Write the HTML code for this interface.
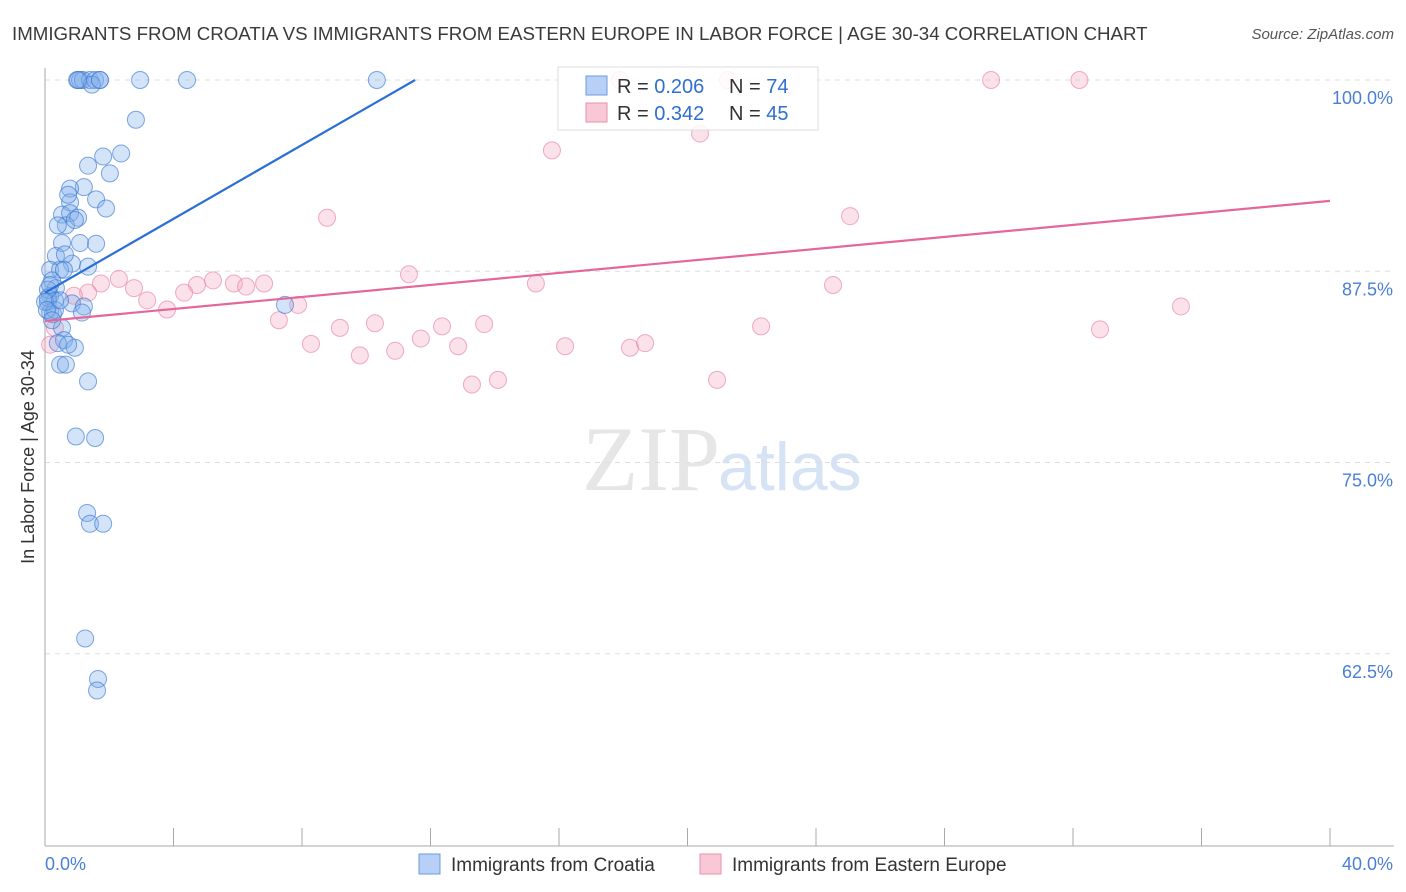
<!DOCTYPE html>
<html><head><meta charset="utf-8"><style>
body{margin:0;background:#fff;font-family:"Liberation Sans",sans-serif}
#c{position:absolute;left:0;top:0}
</style></head><body>
<svg id="c" width="1406" height="892">
<text x="12" y="40" font-size="18.7" fill="#3a3a3a">IMMIGRANTS FROM CROATIA VS IMMIGRANTS FROM EASTERN EUROPE IN LABOR FORCE | AGE 30-34 CORRELATION CHART</text>
<text x="1394" y="39" font-size="15" fill="#555" font-style="italic" text-anchor="end">Source: ZipAtlas.com</text>
<text x="720" y="490" font-size="92" fill="#e6e6e6" text-anchor="end" font-family="Liberation Serif,serif">ZIP</text>
<text x="718" y="490" font-size="68" fill="#d6e3f5">atlas</text>
<g id="grid"></g>
<line x1="45" y1="68" x2="45" y2="846" stroke="#aaa"/>
<line x1="45" y1="846" x2="1394" y2="846" stroke="#aaa"/>
<text transform="translate(34,457) rotate(-90)" font-size="18" fill="#333" text-anchor="middle">In Labor Force | Age 30-34</text>
<g id="pts"></g>
<g id="lines"></g>
<g>
<rect x="558" y="67" width="260" height="63" fill="#fff" fill-opacity="0.85" stroke="#ddd"/>
<rect x="586" y="76" width="21" height="19" fill="#b8d0f5" stroke="#6a9ce0"/>
<rect x="586" y="103" width="21" height="19" fill="#f8c8d6" stroke="#eb90ab"/>
<text x="617" y="93" font-size="20" fill="#333">R = <tspan fill="#2f6fd0">0.206</tspan></text>
<text x="729" y="93" font-size="20" fill="#333">N = <tspan fill="#2f6fd0">74</tspan></text>
<text x="617" y="120" font-size="20" fill="#333">R = <tspan fill="#2f6fd0">0.342</tspan></text>
<text x="729" y="120" font-size="20" fill="#333">N = <tspan fill="#2f6fd0">45</tspan></text>
</g>
<text x="45" y="870" font-size="18" fill="#4a7fd4">0.0%</text>
<text x="1393" y="870" font-size="18" fill="#4a7fd4" text-anchor="end">40.0%</text>
<g><rect x="419" y="854" width="21" height="20" fill="#b8d0f5" stroke="#6a9ce0"/><text x="451" y="871" font-size="19" fill="#333">Immigrants from Croatia</text></g>
<g><rect x="700" y="854" width="21" height="20" fill="#f8c8d6" stroke="#eb90ab"/><text x="732" y="871" font-size="19" fill="#333">Immigrants from Eastern Europe</text></g>
</svg>
<script>
const yTicks=[100,87.5,75,62.5];
const yTickLabels=["100.0%","87.5%","75.0%","62.5%"];
const xTicks=[0,4,8,12,16,20,24,28,32,36,40];
const croatiaX=[1.0,1.09,1.18,1.4,1.56,1.71,1.46,2.96,4.42,10.33,2.83,2.37,1.81,1.34,2.02,1.21,0.78,1.59,0.78,1.9,0.53,0.78,1.03,0.65,0.53,1.09,1.59,0.34,0.84,1.34,0.16,0.47,0.22,0.34,0.16,0.09,0.31,0.84,1.21,7.47,0.16,0.25,1.15,0.53,0.59,0.4,0.93,0.72,0.47,0.65,1.34,0.96,1.56,1.31,1.4,1.81,1.25,1.65,1.62,0.09,0.09,0.16,0.31,0,0.06,0.22,0.47,0.62,0.59,0.93,0.4,0.72,1.71,1.03];
const croatiaY=[100,100,100,100,100,100,99.7,100,100,100,97.4,95.2,95.0,94.4,93.9,93.0,92.9,92.2,92.0,91.6,91.2,91.3,91.0,90.5,89.35,89.35,89.3,88.5,88.0,87.8,87.6,87.6,86.9,86.4,85.9,85.5,85.6,85.4,85.2,85.3,84.8,84.7,84.8,83.8,83.0,82.8,82.5,82.7,81.4,81.4,80.3,76.7,76.6,71.7,71.0,71.0,63.5,60.85,60.1,86.3,85.75,86.6,84.97,85.5,84.97,84.3,85.6,88.6,87.6,90.85,90.5,92.5,100,100];
const eastX=[17.9,21.26,29.45,32.2,15.78,20.39,8.78,25.06,11.33,15.28,2.3,5.23,5.88,1.74,6.82,6.26,4.73,2.77,4.33,1.34,0.9,3.18,7.88,3.8,7.28,35.36,24.53,9.18,10.27,32.84,22.29,12.36,13.67,11.7,12.86,16.19,8.28,10.9,9.8,18.21,18.68,13.29,14.1,20.92,0.16,0.31];
const eastY=[100,100,100,100,95.4,96.5,91.0,91.1,87.3,86.7,87.0,86.9,86.7,86.7,86.7,86.5,86.6,86.4,86.1,86.1,85.9,85.6,85.3,85.0,84.3,85.2,86.6,83.8,84.1,83.7,83.9,83.9,84.05,83.1,82.6,82.6,82.75,82.3,82.0,82.5,82.8,80.1,80.4,80.4,82.7,83.8];
const croatiaTrend=[0,86.1,11.52,100];
const eastTrend=[0,84.25,40,92.1];
const X=v=>45+v*32.125, Y=v=>80+(100-v)*15.3;
const NS="http://www.w3.org/2000/svg";
function mk(t,a,p){const e=document.createElementNS(NS,t);for(const k in a)e.setAttribute(k,a[k]);p.appendChild(e);return e;}
const g=document.getElementById('grid');
yTicks.forEach((v,i)=>{
 const l=mk('line',{x1:45,x2:1394,y1:Y(v),y2:Y(v),stroke:'#ddd','stroke-dasharray':'5,5'},g);
 
 
 const t=mk('text',{x:1393,y:Y(v)+24,'font-size':18,fill:'#4a7fd4','text-anchor':'end'},g);
 t.textContent=yTickLabels[i];
 
 
});
xTicks.forEach(v=>{
 const l=mk('line',{x1:X(v),x2:X(v),y1:828,y2:846,stroke:'#aaa'},g);
 
 
});
const p=document.getElementById('pts');
eastX.forEach((x,i)=>{
 const c=mk('circle',{cx:X(x),cy:Y(eastY[i]),r:8.5,fill:'rgba(244,170,195,0.35)',stroke:'rgba(230,120,155,0.6)','stroke-width':1},p);
 
 
});
croatiaX.forEach((x,i)=>{
 const c=mk('circle',{cx:X(x),cy:Y(croatiaY[i]),r:8.5,fill:'rgba(130,175,235,0.35)',stroke:'rgba(60,120,210,0.65)','stroke-width':1},p);
 
 
});
const L=document.getElementById('lines');
const b=mk('line',{x1:X(croatiaTrend[0]),y1:Y(croatiaTrend[1]),x2:X(croatiaTrend[2]),y2:Y(croatiaTrend[3]),stroke:'#2a6fd6','stroke-width':2.2},L);


const r=mk('line',{x1:X(eastTrend[0]),y1:Y(eastTrend[1]),x2:X(eastTrend[2]),y2:Y(eastTrend[3]),stroke:'#e4679a','stroke-width':2.2},L);


</script>
</body></html>
